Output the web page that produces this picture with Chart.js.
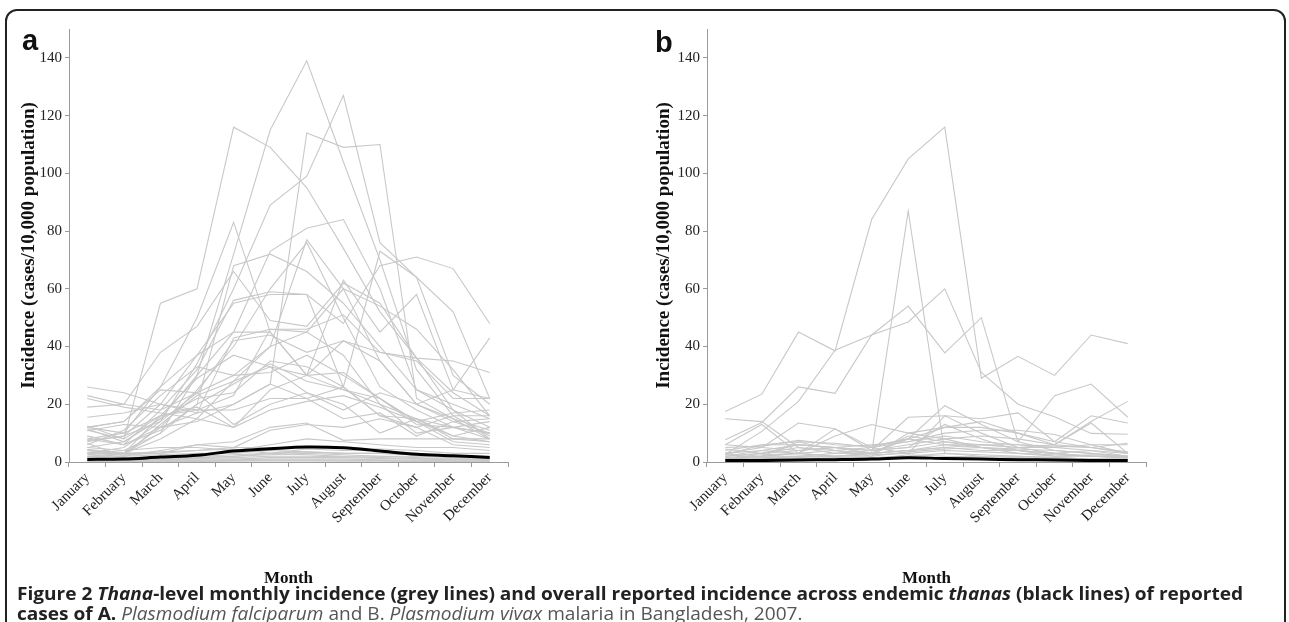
<!DOCTYPE html>
<html>
<head>
<meta charset="utf-8">
<script src="https://cdn.jsdelivr.net/npm/chart.js@4.4.1/dist/chart.umd.min.js"></script>
<style>
  html, body { margin:0; padding:0; background:#fff; width:1289px; height:622px; overflow:hidden; }
  #frame { position:absolute; left:5px; top:9px; width:1281px; height:700px; border:2px solid #222; border-radius:12px; box-sizing:border-box; }
  canvas { position:absolute; top:0; }
  .plabel { position:absolute; font-family:"Liberation Sans", Arial, sans-serif; font-weight:bold; font-size:29px; line-height:30px; color:#111; }
  .cap { position:absolute; left:17px; font-family:"Open Sans", "Noto Sans", sans-serif; font-size:18px; line-height:20px; color:#333; white-space:nowrap; transform-origin:0 50%; }
  .cap b { font-weight:700; color:#222; }
  .cap .lt { color:#555; font-weight:400; }
</style>
</head>
<body>
<div id="frame"></div>
<canvas id="ca" width="638" height="622" style="left:0px"></canvas>
<canvas id="cb" width="638" height="622" style="left:638px"></canvas>
<div class="plabel" style="left:22px; top:25px;">a</div>
<div class="plabel" style="left:655px; top:27px;">b</div>
<div class="cap" id="cap1" style="top:583px;"><b>Figure 2 <i>Thana</i>-level monthly incidence (grey lines) and overall reported incidence across endemic <i>thanas</i> (black lines) of reported</b></div>
<div class="cap" id="cap2" style="top:603px;"><b>cases of A.</b><span class="lt"> <i>Plasmodium falciparum</i> and B. <i>Plasmodium vivax</i> malaria in Bangladesh, 2007.</span></div>
<script>
const months = ["January","February","March","April","May","June","July","August","September","October","November","December"];
const yTickValues = [0,20,40,60,80,100,120,140];
const yAxisMax = 150;

// Panel a: Plasmodium falciparum, thana-level monthly incidence (cases/10,000)
const falciparumThanas = [
  [4,3,10,30,72,115,139,104,70,32,16,9],
  [11,8,55,60,116,109,95,74,52,36,24,16],
  [3,5,14,34,60,89,99,127,76,64,30,20],
  [8,6,12,14,20,27,114,109,110,22,15,8],
  [12,10,26,50,83,45,30,25,20,15,12,10],
  [7,9,20,37,55,58,58,48,68,71,67,48],
  [5,7,15,30,45,73,81,84,60,25,18,12],
  [3,4,10,20,68,72,66,55,40,25,20,15],
  [2,3,8,15,28,40,77,60,35,20,14,10],
  [4,3,12,25,40,60,76,50,26,18,12,8],
  [9,6,18,32,56,59,58,26,73,64,52,22],
  [23,20,38,47,66,49,47,62,55,36,18,8],
  [26,24,20,18,23,46,45,60,54,46,32,16],
  [12,14,26,37,45,45,30,63,45,58,25,43],
  [19,20,18,24,42,44,38,42,38,36,35,31],
  [15.5,17,20,17,43,46,46,51,38,35,22,22],
  [12.5,8,16,29,37,33,24,18,24,20,25,22],
  [11.5,7,15,22,24,35,33,26,16,12,16,16],
  [10.8,13,12,17,20,27,22,15,17,9,14,15],
  [9,6,11,20,27,34,28,25,22,13,12,10],
  [7.4,9,14,24,30,31,37,30,22,14,9,7],
  [6.5,2,13,23,28,33,30,31,22,14,7,6],
  [4.4,3,16,18,18,22,22,26,16,15,8,7],
  [3.3,2.5,3,6,7,12,13.5,7.5,8,8,8,8],
  [2.7,2,4,6,5,11,13,12,15,12,6,5],
  [12,14,25,24,13,20,24,20,10,15,9,12],
  [8,10,16,19,12,25,30,42,35,20,15,11],
  [6,11,23,33,30,40,45,37,20,10,12,14],
  [22,19,17,15,12,18,21,23,19,14,17,18],
  [5,4,5,5,4,6,8,7,6,5,5,4],
  [3,3,3.5,4,5,5,5,5,4.5,4,3,3],
  [2,1.5,2,2,2.5,3,3.5,3,3,2.5,2,2],
  [1.5,1,1.5,1.5,2,2.5,3,2.5,2,2,1.5,1.5],
  [1,1,1,1.2,1.5,2,2,1.8,1.5,1.2,1,1],
  [0.5,0.5,0.8,1,1,1.5,1.5,1.5,1.2,1,0.8,0.5],
  [0.3,0.3,0.5,0.5,0.8,1,1,1,0.8,0.6,0.4,0.3],
  [0.2,0.2,0.3,0.3,0.5,0.6,0.6,0.6,0.5,0.4,0.3,0.2],
  [2,2,2.5,3,3,4,3.5,3,3,2.5,2,1.5],
  [4,3,3,4,4.5,3,4.5,4,4,3,2,2],
  [1,0.8,1,1.5,2,3,2.5,2,2,1.5,1,1],
  [0.1,0.1,0.2,0.2,0.3,0.4,0.4,0.3,0.3,0.2,0.2,0.1]
];
const falciparumOverall = [0.9,1.0,1.7,2.3,3.8,4.6,5.2,4.9,3.8,2.7,2.2,1.6];

// Panel b: Plasmodium vivax
const vivaxThanas = [
  [17.5,23.5,45,38.5,84,105,116,29,36.6,30,44,41],
  [2.7,10.6,21,38.7,44,48.5,60,31,20,15.7,9.9,9.6],
  [7.7,13.7,26,23.8,44,54,37.8,50,7,23,27,15.5],
  [1,2,3,2,3,87,3,2,2,1.5,1,1],
  [2,3,5,4,5,8,19.5,13,7,4,3,2],
  [15,14,5,3,3,4,5,4,4,3,2,2],
  [6,13,3,11.5,5,3,16,10,5,3,2,2],
  [3,5,13.5,11.5,4,15.5,16,15,17,7,16,13.5],
  [2,4,3,9,13,10,12,12,10,6,13.5,3],
  [1,2,2,2,3,4,5,6,5,6,14,21],
  [5,5.5,7.5,6,5.5,8,12,14,10,7,5,3],
  [4,6,7,6.5,5,7,10,11,11,9.5,6,3],
  [3,4,6,5,4,6,8,9,8,6,5,3.5],
  [2,3,4,5,4,5,7,6,6,5,4,3],
  [1.5,2.5,3,4,3,4,6,5,4.5,4,3,2],
  [1,1.5,2,2,2.5,3,4,3.5,3,2.5,2,1.5],
  [0.5,1,1,1.5,1.5,2,3,2.5,2,1.5,1,1],
  [0.3,0.5,0.6,0.8,1,1.2,1.5,1.2,1,0.8,0.5,0.4],
  [4.5,3,6,5,3,8,6,6,5,5,6,6],
  [2.5,6,6,5,3,9,7,5,3,2,2.5,2],
  [1,2,7,4,2,10,8,5,4,2,2,1.5],
  [3,1,2,3,4,5,13,8,4,3,4,2],
  [0.8,1,1.5,1.2,1,2.5,2,1.8,1.5,1.2,1,0.8],
  [1.2,2,3,2,2,3.5,4.5,5,4,3,2,1.5],
  [6,5,4,5,6,7,9,7,6,5.5,5,6.5]
];
const vivaxOverall = [0.5,0.5,0.7,0.8,1.0,1.5,1.2,1.0,0.8,0.7,0.5,0.5];

const greyColor = '#c8c8c8';
const axisColor = '#9a9a9a';
const serif = '"Liberation Serif", "Times New Roman", serif';
const yTickFont = { family: serif, size: 15 };
const xTickFont = { family: serif, size: 15 };
const yTitleFont = { family: serif, size: 19, weight: 'bold' };
const xTitleFont = { family: serif, size: 17, weight: 'bold' };

function makeDatasets(thanas, overall) {
  const ds = [{
    data: overall, borderColor: '#000', borderWidth: 3, pointRadius: 0, tension: 0.35, order: 0
  }];
  thanas.forEach(arr => ds.push({
    data: arr, borderColor: greyColor, borderWidth: 1.1, pointRadius: 0, tension: 0, order: 1
  }));
  return ds;
}

function makeChart(id, thanas, overall, yTitlePad) {
  return new Chart(document.getElementById(id), {
    type: 'line',
    data: { labels: months, datasets: makeDatasets(thanas, overall) },
    options: {
      responsive: false, animation: false, devicePixelRatio: 1,
      layout: { padding: { top: 29, right: 130, bottom: 0, left: 0 } },
      plugins: { legend: { display: false }, tooltip: { enabled: false } },
      scales: {
        x: {
          offset: true,
          grid: { offset: true, drawOnChartArea: false, drawTicks: true, tickLength: 5, color: axisColor },
          border: { display: true, color: axisColor, width: 1 },
          ticks: { autoSkip: false, maxRotation: 45, minRotation: 45, color: '#222', font: xTickFont, padding: 2 },
          title: { display: true, text: 'Month', color: '#111', font: xTitleFont, padding: { top: 0, bottom: 33 } },
          afterFit: s => { s.height = 160; }
        },
        y: {
          min: 0, max: yAxisMax,
          afterBuildTicks: s => { s.ticks = yTickValues.map(v => ({ value: v })); },
          grid: { drawOnChartArea: false, drawTicks: true, tickLength: 4, color: axisColor },
          border: { display: true, color: axisColor, width: 1 },
          ticks: { color: '#222', font: yTickFont, padding: 3 },
          title: { display: true, text: 'Incidence (cases/10,000 population)', color: '#111', font: yTitleFont, padding: { top: yTitlePad, bottom: 0 } },
          afterFit: s => { s.width = 69; }
        }
      }
    }
  });
}

makeChart('ca', falciparumThanas, falciparumOverall, 18);
makeChart('cb', vivaxThanas, vivaxOverall, 15);

// fit caption lines to the measured width of the original first line
(function () {
  const target = 1226;
  const c1 = document.getElementById('cap1');
  const c2 = document.getElementById('cap2');
  const w = c1.getBoundingClientRect().width;
  const k = target / w;
  c1.style.transform = 'scaleX(' + k + ')';
  c2.style.transform = 'scaleX(' + k + ')';
})();
</script>
</body>
</html>
